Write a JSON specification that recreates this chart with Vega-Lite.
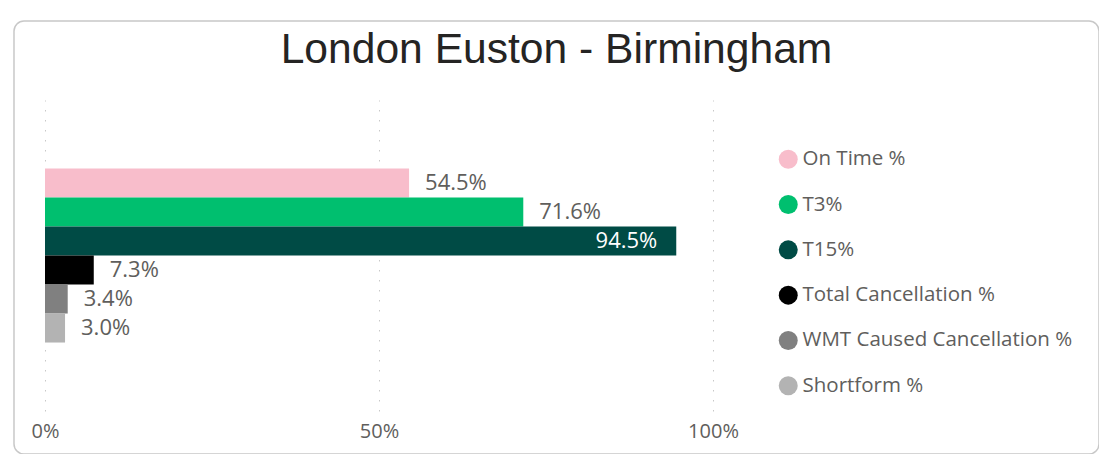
{
  "$schema": "https://vega.github.io/schema/vega-lite/v6.json",
  "width": 1085,
  "height": 433,
  "autosize": {"type": "none"},
  "padding": {"left": 14, "top": 21, "right": 0, "bottom": 0},
  "background": "#FFFFFF",
  "title": {
    "text": "London Euston - Birmingham",
    "anchor": "middle",
    "frame": "group",
    "font": "Liberation Sans",
    "fontSize": 42.6,
    "fontWeight": "normal",
    "color": "#252423",
    "baseline": "alphabetic",
    "offset": -85
  },
  "data": {
    "values": [
      {"route": "London Euston - Birmingham", "measure": "On Time %", "value": 0.545},
      {"route": "London Euston - Birmingham", "measure": "T3%", "value": 0.716},
      {"route": "London Euston - Birmingham", "measure": "T15%", "value": 0.945},
      {"route": "London Euston - Birmingham", "measure": "Total Cancellation %", "value": 0.073},
      {"route": "London Euston - Birmingham", "measure": "WMT Caused Cancellation %", "value": 0.034},
      {"route": "London Euston - Birmingham", "measure": "Shortform %", "value": 0.030}
    ]
  },
  "encoding": {
    "y": {
      "field": "route",
      "type": "nominal",
      "axis": null,
      "scale": {"range": [43, 354], "paddingInner": 0, "paddingOuter": 0.3937, "align": 0.763}
    },
    "yOffset": {
      "field": "measure",
      "type": "nominal",
      "scale": {
        "domain": ["On Time %", "T3%", "T15%", "Total Cancellation %", "WMT Caused Cancellation %", "Shortform %"],
        "paddingInner": 0,
        "paddingOuter": 0
      }
    },
    "x": {
      "field": "value",
      "type": "quantitative",
      "scale": {"domain": [0, 1], "range": [31, 699], "nice": false},
      "axis": {
        "title": null,
        "values": [0, 0.5, 1],
        "format": ".0%",
        "grid": true,
        "gridColor": "#C8C8C8",
        "gridDash": [1.5, 8.5],
        "gridWidth": 1,
        "ticks": false,
        "domain": false,
        "labelFlush": false,
        "labelFont": "Open Sans",
        "labelFontSize": 20,
        "labelColor": "#605E5C",
        "labelPadding": -33,
        "offset": 0
      }
    }
  },
  "layer": [
    {
      "mark": {"type": "bar"},
      "encoding": {
        "color": {
          "field": "measure",
          "type": "nominal",
          "scale": {
            "domain": ["On Time %", "T3%", "T15%", "Total Cancellation %", "WMT Caused Cancellation %", "Shortform %"],
            "range": ["#F8BDCB", "#00BF6F", "#004B45", "#000000", "#808080", "#B3B3B3"]
          },
          "legend": {
            "orient": "none",
            "legendX": 764,
            "legendY": 128,
            "title": null,
            "symbolType": "circle",
            "symbolSize": 360,
            "symbolStrokeWidth": 0,
            "labelFont": "Open Sans",
            "labelFontSize": 20.5,
            "labelColor": "#605E5C",
            "labelOffset": 4,
            "rowPadding": 24.3,
            "labelLimit": 400
          }
        }
      }
    },
    {
      "transform": [{"filter": "datum.value < 0.9"}],
      "mark": {"type": "text", "align": "left", "baseline": "middle", "dx": 16, "font": "Open Sans", "fontSize": 22, "color": "#605E5C"},
      "encoding": {"text": {"field": "value", "type": "quantitative", "format": ".1%"}}
    },
    {
      "transform": [{"filter": "datum.value >= 0.9"}],
      "mark": {"type": "text", "align": "right", "baseline": "middle", "dx": -19, "font": "Open Sans", "fontSize": 22, "color": "#FFFFFF"},
      "encoding": {"text": {"field": "value", "type": "quantitative", "format": ".1%"}}
    }
  ],
  "config": {
    "view": {"stroke": "#C8C8C8", "strokeWidth": 1.5, "cornerRadius": 10}
  }
}
